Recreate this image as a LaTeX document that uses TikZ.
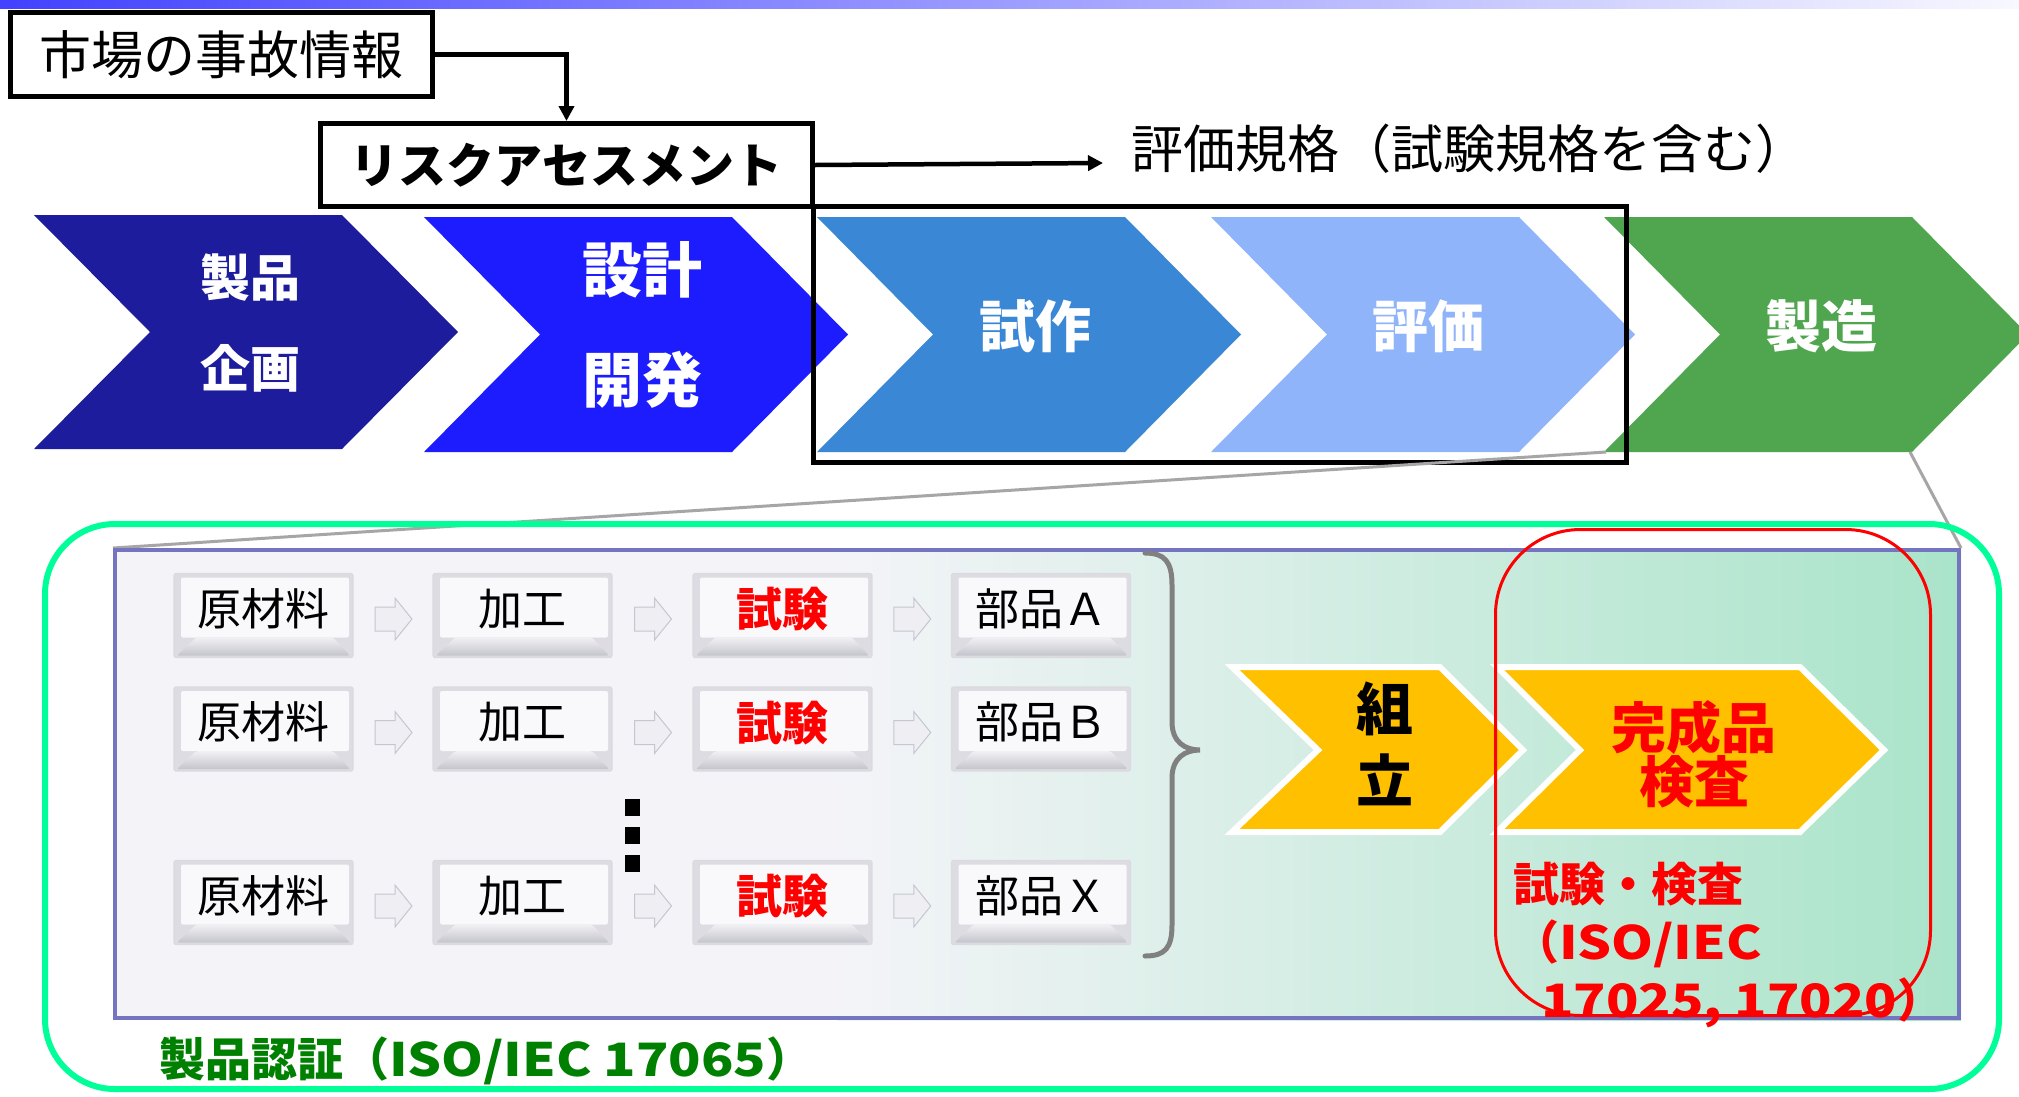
\documentclass[tikz,border=0pt]{standalone}
\usepackage{fontspec}
\setmainfont{Noto Sans CJK JP}
\newfontfamily\widelat{Noto Sans CJK JP}[FakeStretch=1.16]
\usetikzlibrary{arrows.meta,calc}
\definecolor{topL}{HTML}{4242FF}
\definecolor{topR}{HTML}{F8F8FF}
\definecolor{chA}{HTML}{1C1C9C}
\definecolor{chB}{HTML}{1C1CFF}
\definecolor{chC}{HTML}{3A87D6}
\definecolor{chD}{HTML}{8FB4FA}
\definecolor{chE}{HTML}{4FA64F}
\definecolor{mintline}{HTML}{00FF99}
\definecolor{frameblue}{HTML}{7474C0}
\definecolor{yel}{HTML}{FFC000}
\definecolor{certgreen}{HTML}{008000}
\definecolor{bgL}{HTML}{F4F4F8}
\definecolor{bgR}{HTML}{A9E4C9}
\definecolor{zoomgray}{HTML}{A6A6A6}
\definecolor{bracegray}{HTML}{808080}
\definecolor{capedge}{HTML}{DADADF}
\definecolor{capside}{HTML}{DCDCE2}
\definecolor{capface}{HTML}{F9F9FB}
\definecolor{bandtop}{HTML}{F1F1F4}
\definecolor{bandbot}{HTML}{C4C4CC}
\definecolor{arrfill}{HTML}{EEEEF3}
\definecolor{arredge}{HTML}{C6C6D0}
\newcommand\fs[1]{\fontsize{#1}{#1}\selectfont}
\begin{document}
\begin{tikzpicture}[x=1pt,y=-1pt,
  arr/.style={line width=4.5pt,-{Triangle[length=15pt,width=15pt]}},
  blackbox/.style={draw=black,line width=5pt,fill=white,inner sep=0pt},
  chevtext/.style={text=white,font=\bfseries,align=center,inner sep=0pt},
  keycap/.style={draw=capedge,line width=1.2pt,fill=capside,rounded corners=2pt,
    minimum width=179pt,minimum height=84pt,inner sep=0pt,text depth=17pt,
    path picture={
      \fill[capface] ([xshift=7pt,yshift=-4pt]path picture bounding box.north west)
        rectangle ([xshift=-4pt,yshift=20pt]path picture bounding box.south east);
      \shade[top color=bandtop,bottom color=bandbot]
        ([xshift=3pt,yshift=2pt]path picture bounding box.south west)
        -- ([xshift=22pt,yshift=20pt]path picture bounding box.south west)
        -- ([xshift=-20pt,yshift=20pt]path picture bounding box.south east)
        -- ([xshift=-3pt,yshift=2pt]path picture bounding box.south east) -- cycle;}},
  rawtext/.style={font=\fs{44}},
  testtext/.style={font=\bfseries\fs{46},text=red},
  smallarrow/.pic={\filldraw[fill=arrfill,draw=arredge,line width=1pt]
    (-18,-12) -- (2,-12) -- (2,-21) -- (19,0) -- (2,21) -- (2,12) -- (-18,12) -- cycle;},
  yelchev/.style={fill=yel,draw=white,line width=6pt,line join=miter}
]
\useasboundingbox (0,0) rectangle (2019,1096);
\fill[white] (0,0) rectangle (2019,1096);
\shade[left color=topL,right color=topR] (0,0) rectangle (2019,8);

% process chevrons
\fill[chA] (34,215) -- (342,215) -- (458,332) -- (342,449) -- (34,449) -- (150,332) -- cycle;
\fill[chB] (424,217) -- (732,217) -- (848,334.5) -- (732,452) -- (424,452) -- (540,334.5) -- cycle;
\fill[chC] (817,217) -- (1125,217) -- (1241,334.5) -- (1125,452) -- (817,452) -- (933,334.5) -- cycle;
\fill[chD] (1211,217) -- (1519,217) -- (1635,334.5) -- (1519,452) -- (1211,452) -- (1327,334.5) -- cycle;
\fill[chE] (1604,217) -- (1912,217) -- (2028,334.5) -- (1912,452) -- (1604,452) -- (1720,334.5) -- cycle;

\node[chevtext,font=\bfseries\fontsize{50}{91}\selectfont] (plan) at (250,322.5) {製品\\企画};
\node[chevtext,font=\bfseries\fontsize{60}{110}\selectfont] (design) at (642,325) {設計\\開発};
\node[chevtext,font=\bfseries\fs{56}] (proto) at (1035,326) {試作};
\node[chevtext,font=\bfseries\fs{56}] (eval) at (1428,326) {評価};
\node[chevtext,font=\bfseries\fs{56}] (manuf) at (1821,326) {製造};

% frame around prototype + evaluation
\draw[line width=5pt] (813,206) rectangle (1626,462);

% top boxes and arrows
\node[blackbox,minimum width=422pt,minimum height=84pt,font=\fs{52}] (acc) at (221.5,54.5) {市場の事故情報};
\node[blackbox,minimum width=492pt,minimum height=83pt,font=\bfseries\fs{48}] (risk) at (566.5,165) {リスクアセスメント};
\draw[arr] (acc.east) -| (risk.north);
\coordinate (stdin) at (1103,163);
\draw[arr] (risk.east) -- (stdin);
\node[anchor=west,inner sep=0pt,font=\fs{52}] (std) at (1131,149) {評価規格（試験規格を含む）};

% zoom lines
\coordinate (zl) at (1606,452);
\coordinate (zr) at (1910,452);
\coordinate (inTL) at (113,548);
\coordinate (inTR) at (1961,548);
\draw[zoomgray,line width=3pt] (zl) -- (inTL);
\draw[zoomgray,line width=3pt] (zr) -- (inTR);

% outer certification frame
\draw[mintline,line width=6pt,rounded corners=70pt] (45,524) rectangle (1999,1089);

% inner panel
\fill[bgL] (113,548) rectangle (838,1020);
\shade[left color=bgL,right color=bgR] (837,548) rectangle (1961,1020);
\draw[frameblue,line width=4pt] (115,550) rectangle (1959,1018);

% component rows
\foreach \r/\y/\p in {1/615.5/Ａ,2/729/Ｂ,3/902.5/Ｘ}{
  \node[keycap,rawtext] (r\r c1) at (263.5,\y) {原材料};
  \node[keycap,rawtext] (r\r c2) at (522.5,\y) {加工};
  \node[keycap,testtext] (r\r c3) at (782.5,\y) {試験};
  \node[keycap,rawtext] (r\r c4) at (1041,\y) {部品\p};
  \pic at ($(r\r c1.east)!.5!(r\r c2.west)+(0,3.5)$) {smallarrow};
  \pic at ($(r\r c2.east)!.5!(r\r c3.west)+(0,3.5)$) {smallarrow};
  \pic at ($(r\r c3.east)!.5!(r\r c4.west)+(0,3.5)$) {smallarrow};
}
% vertical ellipsis
\fill[black] (625,799) rectangle (640,816);
\fill[black] (625,827) rectangle (640,844);
\fill[black] (625,855) rectangle (640,872);

% brace
\draw[bracegray,line width=5pt,line cap=round]
  (1145,553) .. controls (1165,553) and (1172,562) .. (1172,585) -- (1172,722)
  .. controls (1172,742) and (1185,750) .. (1200,750)
  .. controls (1185,750) and (1172,758) .. (1172,778) -- (1172,925)
  .. controls (1172,948) and (1165,956) .. (1145,956);

% yellow chevrons
\draw[yelchev] (1232,667) -- (1440,667) -- (1523,750) -- (1440,832) -- (1232,832) -- (1318,750) -- cycle;
\draw[yelchev] (1497,667) -- (1800,667) -- (1884,750) -- (1800,832) -- (1497,832) -- (1580,750) -- cycle;
\node[align=center,inner sep=0pt,font=\bfseries\fontsize{57}{72}\selectfont] (assy) at (1385,744) {組\\立};
\node[align=center,inner sep=0pt,text=red,font=\bfseries\fontsize{55}{54}\selectfont] (final) at (1694,754) {完成品\\検査};

% red rounded frame
\draw[red,line width=3pt,rounded corners=85pt] (1495.5,529.5) rectangle (1930.5,1015.5);
\node[anchor=north west,align=left,inner sep=0pt,text=red,font=\bfseries\fontsize{46}{58}\selectfont] (testlbl) at (1513,862)
  {試験・検査\\（{\widelat ISO/IEC}\\\hspace*{28pt}{\widelat 17025, 17020}）};

% certification label
\node[anchor=west,inner sep=0pt,text=certgreen,font=\bfseries\fs{46}] (cert) at (159,1061) {製品認証（{\widelat ISO/IEC 17065}）};
\end{tikzpicture}
\end{document}
